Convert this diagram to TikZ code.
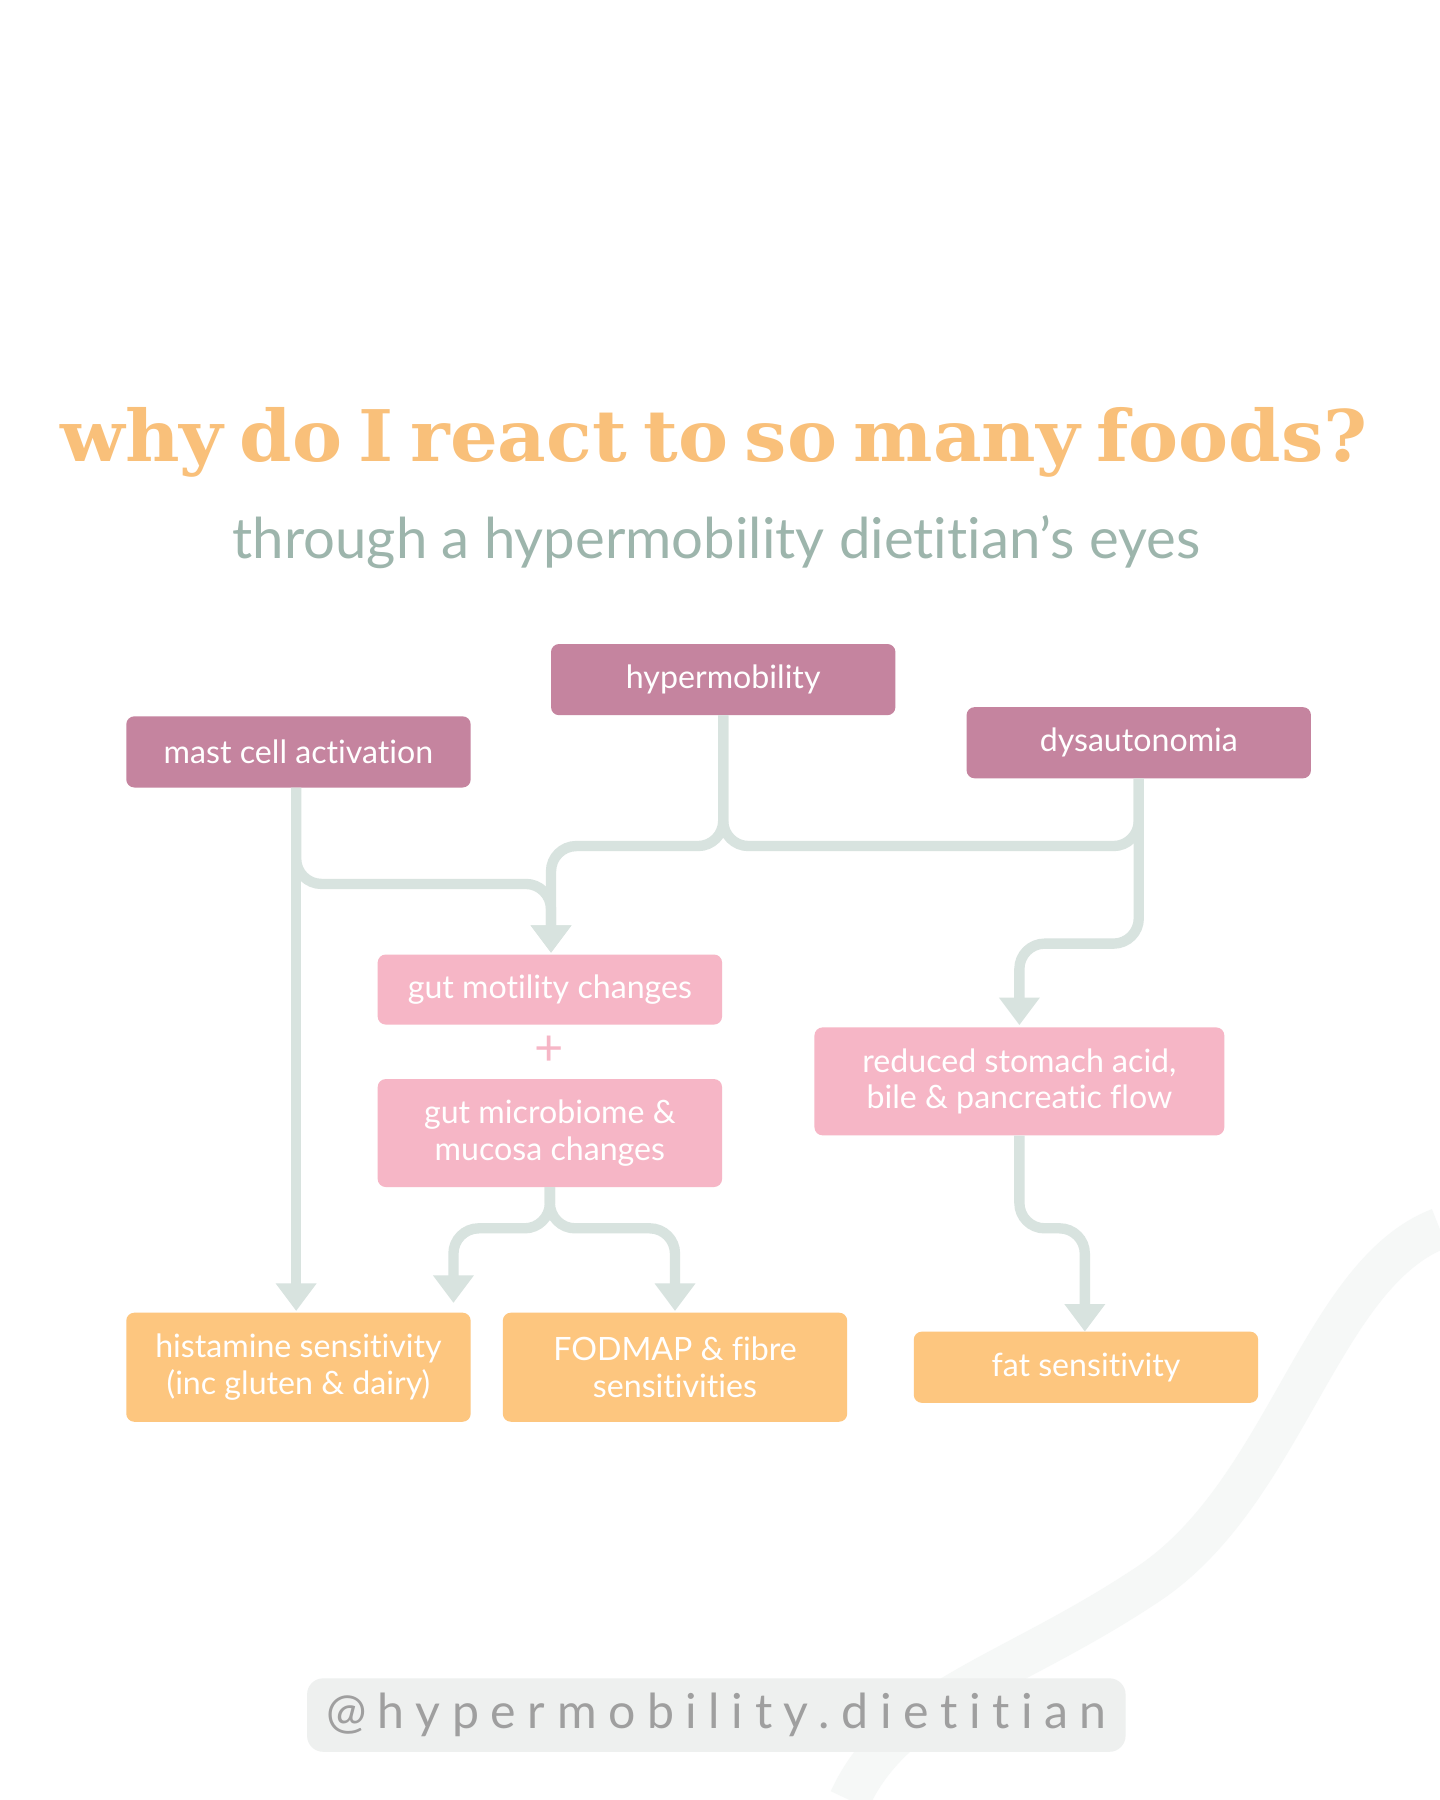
\documentclass[tikz,border=0pt]{standalone}
\usepackage{fontspec}
\setmainfont{Lato}[Ligatures=NoCommon]
\newfontfamily\titlefont{DejaVu Serif}
\usetikzlibrary{arrows.meta}
\definecolor{mauve}{HTML}{C5849F}
\definecolor{pinkb}{HTML}{F6B6C6}
\definecolor{orangeb}{HTML}{FDC67F}
\definecolor{conn}{HTML}{D8E3DF}
\definecolor{titlec}{HTML}{F9C07A}
\definecolor{subc}{HTML}{9DB5AC}
\definecolor{pillc}{HTML}{EEF0EF}
\definecolor{decoc}{HTML}{F6F8F7}
\tikzset{
 box/.style={rounded corners=7pt,minimum width=300pt,align=center,text=white,font=\fontsize{28}{32}\selectfont,inner sep=0pt},
 topbox/.style={box,fill=mauve,minimum height=62pt},
 midbox/.style={box,fill=pinkb},
 endbox/.style={box,fill=orangeb},
 link/.style={draw=conn,line width=9pt,rounded corners=22pt},
 arr/.style={link,-{Triangle[width=34pt,length=24pt]}}
}
\begin{document}
\begin{tikzpicture}[x=1pt,y=-1pt]
\useasboundingbox (0,0) rectangle (1254,1568);
\fill[white] (0,0) rectangle (1254,1568);
% decorative curve
\draw[decoc,line width=36pt] (1254,1070) .. controls (1150,1110) and (1120,1300) .. (1000,1380) .. controls (880,1460) and (780,1480) .. (740,1568);
% title
\node (title) at (622,385) {\scalebox{1.055}[1]{\titlefont\bfseries\fontsize{62}{70}\selectfont\spaceskip=0.22em\color{titlec}why do I react to so many foods?}};
\node (sub) at (624,472) {\fontsize{49}{54}\selectfont\color{subc}through a hypermobility dietitian's eyes};
% boxes
\node[topbox] (hyp) at (630,592) {hypermobility};
\node[topbox] (mast) at (260,655) {mast cell activation};
\node[topbox] (dys) at (992,647) {dysautonomia};
\node[midbox,minimum height=61pt] (mot) at (479,862) {gut motility changes};
\node (plus) at (478,915) {\fontsize{44}{44}\selectfont\color{pinkb}+};
\node[midbox,minimum height=94pt] (mic) at (479,987) {gut microbiome \&\\mucosa changes};
\node[midbox,minimum height=94pt,minimum width=357pt] (red) at (888,942) {reduced stomach acid,\\bile \& pancreatic flow};
\node[endbox,minimum height=95pt] (his) at (260,1191) {histamine sensitivity\\(inc gluten \& dairy)};
\node[endbox,minimum height=95pt] (fod) at (588,1191) {FODMAP \& fibre\\sensitivities};
\node[endbox,minimum height=62pt] (fat) at (946,1191) {fat sensitivity};
% connectors
\draw[link] (hyp.south) |- (630,737) -- (992,737) -- (dys.south);
\draw[arr] (hyp.south) |- (480,737) -- (480,830);
\draw[arr] (dys.south) |- (888,822) -- (888,893);
\draw[arr] (258,686) -- (258,1142);
\draw[arr] (258,686) |- (480,770) -- (480,830);
\draw[arr] (mic.south) |- (395,1070) -- (395,1135);
\draw[arr] (mic.south) |- (588,1070) -- (588,1142);
\draw[arr] (red.south) |- (945,1070) -- (945,1160);
% handle
\node[fill=pillc,rounded corners=14pt,minimum width=713pt,minimum height=64pt] (handle) at (624,1494) {\fontsize{42}{46}\selectfont\addfontfeature{LetterSpace=24}\color{gray!75}@hypermobility.dietitian};
\end{tikzpicture}
\end{document}
